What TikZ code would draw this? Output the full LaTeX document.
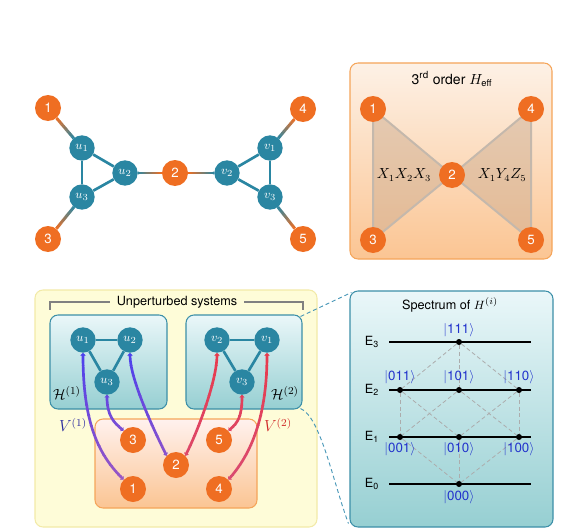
\documentclass[tikz,border=0pt]{standalone}
\usepackage{fontspec}
\setsansfont{TeX Gyre Heros}
\usetikzlibrary{calc,arrows.meta}
\pgfdeclarelayer{boxes}
\pgfdeclarelayer{edges}
\pgfsetlayers{boxes,edges,main}

\definecolor{org}{HTML}{EF6E22}
\definecolor{tl}{HTML}{2A86A2}
\definecolor{vblue}{HTML}{4A40EE}
\definecolor{vpurple}{HTML}{A058C0}
\definecolor{vred}{HTML}{E83A4C}
\definecolor{vpink}{HTML}{D84C74}
\definecolor{ketblue}{HTML}{2233CC}
\definecolor{vlblue}{HTML}{2A2A9E}
\definecolor{vlred}{HTML}{D02828}
\definecolor{boxedge}{HTML}{3C8FA8}
\definecolor{boxtop}{HTML}{EAF7F9}
\definecolor{boxbot}{HTML}{96CFD2}
\definecolor{peachtop}{HTML}{FDF1E6}
\definecolor{peachbot}{HTML}{FBC593}
\definecolor{peachedge}{HTML}{F5A55A}
\definecolor{pinktop}{HTML}{FFF1EE}
\definecolor{yelfill}{HTML}{FEFCD8}
\definecolor{yeledge}{HTML}{F2EAA8}
\definecolor{trifill}{HTML}{C8A88C}
\definecolor{triedge}{HTML}{C4B8AC}
\definecolor{dashc}{HTML}{4A98B8}

\newcommand{\gradedge}[2]{%
  \path (#1) -- (#2) coordinate[pos=0] (gA) coordinate[pos=1] (gB);
  \foreach \gk in {0,...,19}{%
    \pgfmathsetmacro\gta{\gk/20}%
    \pgfmathsetmacro\gtb{(\gk+1.2)/20}%
    \pgfmathtruncatemacro\gpc{\gk*5+2}%
    \draw[line width=2.2pt, tl!\gpc!org] ($(gA)!\gta!(gB)$) -- ($(gA)!\gtb!(gB)$);
  }}

\begin{document}
\begin{tikzpicture}[x=0.75pt,y=-0.75pt,
  onode/.style={circle, fill=org, minimum size=19.5pt, inner sep=0pt, text=white, font=\sffamily\fontsize{10}{12}\selectfont},
  tnode/.style={circle, fill=tl, minimum size=19pt, inner sep=0pt, text=white, font=\fontsize{9.5}{11}\selectfont},
  tedge/.style={line width=2pt, tl},
  panel/.style={draw=boxedge, line width=0.8pt, rounded corners=6pt, top color=boxtop, bottom color=boxbot, inner sep=0pt},
  peachpanel/.style={draw=peachedge, line width=0.8pt, rounded corners=6pt, top color=peachtop, bottom color=peachbot, inner sep=0pt},
  pinkpanel/.style={draw=peachedge, line width=0.8pt, rounded corners=6pt, top color=pinktop, bottom color=peachbot, inner sep=0pt},
  yelpanel/.style={draw=yeledge, line width=0.8pt, rounded corners=6pt, fill=yelfill, inner sep=0pt},
  tri/.style={fill=trifill, fill opacity=0.45, draw=triedge, draw opacity=1, line width=1.5pt, line join=round},
  stxt/.style={font=\sffamily\fontsize{9.5}{11}\selectfont},
  mtxt/.style={font=\fontsize{10.5}{12}\selectfont},
  vcurve/.style={line width=2pt, {Triangle[length=1.8pt,width=3.8pt]}-{Triangle[length=1.8pt,width=3.8pt]}},
  conn/.style={draw=dashc, line width=0.7pt, dash pattern=on 3pt off 2.2pt},
  bracketc/.style={draw=gray, line width=0.8pt},
  level/.style={line width=1.2pt, black},
  dot/.style={circle, fill=black, minimum size=4.5pt, inner sep=0pt},
  cube/.style={draw=gray!65, line width=0.6pt, dash pattern=on 3pt off 2pt},
  ket/.style={font=\sffamily\fontsize{10}{12}\selectfont, text=ketblue, inner sep=1pt}
]
\useasboundingbox (0,0) rectangle (578,528);

% ---------------- top-left graph ----------------
\node[onode] (a1) at (48,108) {1};
\node[tnode] (au1) at (82,148) {$u_1$};
\node[tnode] (au2) at (125,173) {$u_2$};
\node[tnode] (au3) at (82,197) {$u_3$};
\node[onode] (a3) at (48,239) {3};
\node[onode] (a2) at (175,173) {2};
\node[tnode] (av2) at (227,173) {$v_2$};
\node[tnode] (av1) at (270,148) {$v_1$};
\node[tnode] (av3) at (270,197) {$v_3$};
\node[onode] (a4) at (303,109) {4};
\node[onode] (a5) at (303,239) {5};
\begin{pgfonlayer}{edges}
  \draw[tedge] (au1) -- (au2);
  \draw[tedge] (au2) -- (au3);
  \draw[tedge] (au3) -- (au1);
  \draw[tedge] (av1) -- (av2);
  \draw[tedge] (av2) -- (av3);
  \draw[tedge] (av3) -- (av1);
  \gradedge{a1}{au1}
  \gradedge{a3}{au3}
  \gradedge{a2}{au2}
  \gradedge{a2}{av2}
  \gradedge{a4}{av1}
  \gradedge{a5}{av3}
\end{pgfonlayer}

% ---------------- top-right H_eff ----------------
\begin{pgfonlayer}{boxes}
  \node[peachpanel, minimum width=151.5pt, minimum height=147pt] (heff) at (451,161) {};
\end{pgfonlayer}
\node[font=\sffamily\fontsize{10.5}{12}\selectfont] (hti) at (452,79) {3\textsuperscript{rd} order $H_{\textsf{\scriptsize eff}}$};
\node[onode] (b1) at (373,109) {1};
\node[onode] (b4) at (531,109) {4};
\node[onode] (b2) at (452,175) {2};
\node[onode] (b3) at (373,240) {3};
\node[onode] (b5) at (531,240) {5};
\begin{pgfonlayer}{edges}
  \path[tri] (b1.center) -- (b2.center) -- (b3.center) -- cycle;
  \path[tri] (b4.center) -- (b2.center) -- (b5.center) -- cycle;
\end{pgfonlayer}
\node[mtxt] (lx1) at (404,175) {$X_1X_2X_3$};
\node[mtxt] (lx2) at (502,175) {$X_1Y_4Z_5$};

% ---------------- bottom-left ----------------
\begin{pgfonlayer}{boxes}
  \node[yelpanel, minimum width=211.5pt, minimum height=177.75pt] (ybox) at (176,408.5) {};
  \node[panel, minimum width=87.75pt, minimum height=70.5pt] (H1) at (108.5,362) {};
  \node[panel, minimum width=87pt, minimum height=70.5pt] (H2) at (244,362) {};
  \node[pinkpanel, minimum width=121.5pt, minimum height=66.75pt] (ob) at (176,463.5) {};
  \node[panel, minimum width=152.25pt, minimum height=177pt] (S) at (451.5,409) {};
\end{pgfonlayer}

\node[stxt, inner xsep=5pt] (unp) at (177,302) {Unperturbed systems};
\draw[bracketc] (unp.west) -- (50,302) -- (50,310);
\draw[bracketc] (unp.east) -- (303,302) -- (303,310);

\node[tnode] (cu1) at (83,340) {$u_1$};
\node[tnode] (cu2) at (130,340) {$u_2$};
\node[tnode] (cu3) at (107,382) {$u_3$};
\node[tnode] (cv2) at (217,340) {$v_2$};
\node[tnode] (cv1) at (267,340) {$v_1$};
\node[tnode] (cv3) at (242,382) {$v_3$};
\node[onode] (c1) at (133,489) {1};
\node[onode] (c2) at (176,465) {2};
\node[onode] (c3) at (133,440) {3};
\node[onode] (c4) at (219,489) {4};
\node[onode] (c5) at (219,440) {5};

\node[font=\fontsize{11}{13}\selectfont] (lh1) at (67,393) {$\mathcal{H}^{(1)}$};
\node[font=\fontsize{11}{13}\selectfont] (lh2) at (285,393) {$\mathcal{H}^{(2)}$};
\node[font=\fontsize{12}{14}\selectfont, text=vlblue] (lv1) at (73,425) {$V^{(1)}$};
\node[font=\fontsize{12}{14}\selectfont, text=vlred] (lv2) at (278,425) {$V^{(2)}$};

\begin{pgfonlayer}{edges}
  \draw[tedge] (cu1) -- (cu2);
  \draw[tedge] (cu2) -- (cu3);
  \draw[tedge] (cu3) -- (cu1);
  \draw[tedge] (cv2) -- (cv1);
  \draw[tedge] (cv1) -- (cv3);
  \draw[tedge] (cv3) -- (cv2);
  \foreach \b in {0,...,14}{
    \pgfmathsetmacro\ya{345+\b*10}
    \pgfmathsetmacro\yb{\ya+10.6}
    \pgfmathtruncatemacro\pc{\b*100/14}
    \begin{scope}
      \clip (0,\ya) rectangle (578,\yb);
      \draw[vcurve, vpurple!\pc!vblue] (cu1.south) .. controls +(0,70) and +(-25,-25) .. (c1.north west);
      \draw[vcurve, vpurple!\pc!vblue] (cu3.south) .. controls +(0,20) and +(-10,-8) .. (c3.north west);
      \draw[vcurve, vpurple!\pc!vblue] (cu2.south) .. controls +(0,25) and +(-15,-30) .. (c2.north west);
      \draw[vcurve, vpink!\pc!vred] (cv2.south) .. controls +(0,25) and +(15,-30) .. (c2.north east);
      \draw[vcurve, vpink!\pc!vred] (cv3.south) .. controls +(0,20) and +(10,-8) .. (c5.north east);
      \draw[vcurve, vpink!\pc!vred] (cv1.south) .. controls +(0,65) and +(22,-25) .. (c4.north east);
    \end{scope}
  }
\end{pgfonlayer}

% dashed connectors
\draw[conn] ([shift={(-2,2)}]H2.north east) -- ([shift={(2,2)}]S.north west);
\draw[conn] ([shift={(-2,-1)}]H2.south east) .. controls +(20,8) and +(-15,-40) .. ([shift={(-1,-4)}]S.south west);

% ---------------- spectrum ----------------
\node[stxt] (sti) at (450,305) {Spectrum of $H^{(i)}$};
\foreach \n/\y in {3/342,2/390,1/437,0/484}{
  \draw[level] (389,\y) -- (531,\y);
  \node[stxt] (e\n) at (372,\y) {E\textsubscript{\n}};
}
\node[dot] (s111) at (459,342) {};
\node[dot] (s011) at (400,390) {};
\node[dot] (s101) at (459,390) {};
\node[dot] (s110) at (519,390) {};
\node[dot] (s001) at (400,437) {};
\node[dot] (s010) at (459,437) {};
\node[dot] (s100) at (519,437) {};
\node[dot] (s000) at (459,484) {};
\begin{pgfonlayer}{edges}
  \draw[cube] (s111) -- (s011);
  \draw[cube] (s111) -- (s101);
  \draw[cube] (s111) -- (s110);
  \draw[cube] (s011) -- (s001);
  \draw[cube] (s011) -- (s010);
  \draw[cube] (s101) -- (s001);
  \draw[cube] (s101) -- (s100);
  \draw[cube] (s110) -- (s010);
  \draw[cube] (s110) -- (s100);
  \draw[cube] (s001) -- (s000);
  \draw[cube] (s010) -- (s000);
  \draw[cube] (s100) -- (s000);
\end{pgfonlayer}
\node[ket] (k111) at (459,330) {$|$111$\rangle$};
\node[ket] (k011) at (400,377) {$|$011$\rangle$};
\node[ket] (k101) at (459,377) {$|$101$\rangle$};
\node[ket] (k110) at (519,377) {$|$110$\rangle$};
\node[ket] (k001) at (400,449) {$|$001$\rangle$};
\node[ket] (k010) at (459,449) {$|$010$\rangle$};
\node[ket] (k100) at (519,449) {$|$100$\rangle$};
\node[ket] (k000) at (459,497) {$|$000$\rangle$};
\end{tikzpicture}
\end{document}
